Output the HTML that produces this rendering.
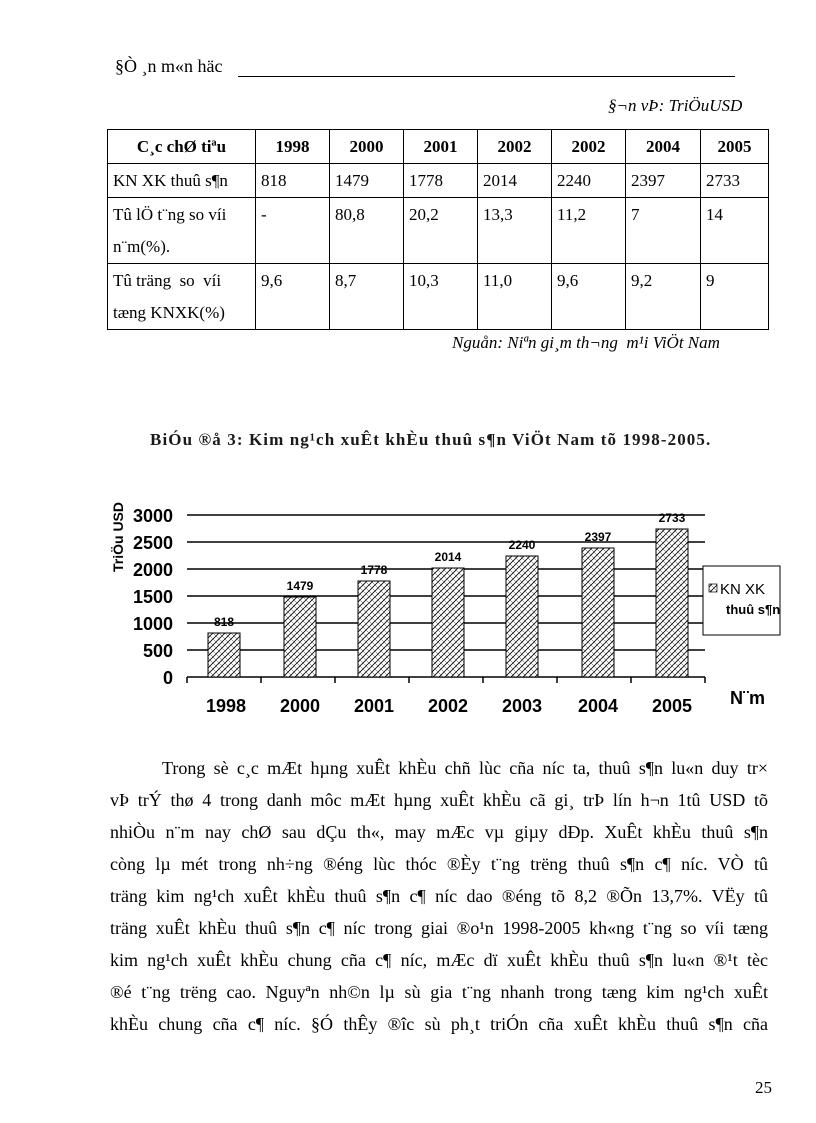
<!DOCTYPE html>
<html><head><meta charset="utf-8"><style>
body{margin:0;background:#fff;}
.p{position:relative;width:816px;height:1123px;font-family:"Liberation Serif",serif;color:#000;}
.a{position:absolute;white-space:nowrap;}
table{position:absolute;left:107px;top:129px;width:661px;table-layout:fixed;border-collapse:collapse;font-size:17px;}
td{border:1.5px solid #000;vertical-align:top;padding:1px 4px 0 5px;line-height:32px;overflow:hidden;white-space:nowrap;}
th{border:1.5px solid #000;font-size:17px;height:33px;font-weight:bold;padding:0;}
.t{font-size:18px;left:110px;width:658px;text-align:justify;text-align-last:justify;white-space:nowrap;}
</style></head><body><div class="p">
<div class="a" style="left:115px;top:56px;font-size:18px;">§Ò ¸n m«n häc</div>
<div class="a" style="left:238px;top:76px;width:497px;border-top:1px solid #000;"></div>
<div class="a" style="left:608px;top:96px;font-size:17px;font-style:italic;">§¬n vÞ: TriÖuUSD</div>
<table>
<colgroup><col style="width:148px"><col style="width:74px"><col style="width:74px"><col style="width:74px"><col style="width:74px"><col style="width:74px"><col style="width:75px"><col style="width:68px"></colgroup>
<tr><th>C¸c chØ tiªu</th><th>1998</th><th>2000</th><th>2001</th><th>2002</th><th>2002</th><th>2004</th><th>2005</th></tr>
<tr><td style="height:32px">KN XK thuû s¶n</td><td>818</td><td>1479</td><td>1778</td><td>2014</td><td>2240</td><td>2397</td><td>2733</td></tr>
<tr><td style="height:64px">Tû lÖ t¨ng so víi<br>n¨m(%).</td><td>-</td><td>80,8</td><td>20,2</td><td>13,3</td><td>11,2</td><td>7</td><td>14</td></tr>
<tr><td style="height:64px">Tû träng&nbsp; so&nbsp; víi<br>tæng KNXK(%)</td><td>9,6</td><td>8,7</td><td>10,3</td><td>11,0</td><td>9,6</td><td>9,2</td><td>9</td></tr>
</table>
<div class="a" style="left:452px;top:333px;font-size:17px;font-style:italic;">Nguån: Niªn gi¸m th¬ng&nbsp; m¹i ViÖt Nam</div>
<div class="a" style="left:150px;top:430px;font-size:17px;font-weight:bold;color:#1a1a1a;letter-spacing:1.1px;">BiÓu ®å 3: Kim ng¹ch xuÊt khÈu thuû s¶n ViÖt Nam tõ 1998-2005.</div>
<svg class="a" style="left:0;top:0" width="816" height="740" font-family="Liberation Sans,sans-serif">
<defs><pattern id="h" width="6" height="6" patternUnits="userSpaceOnUse">
<rect width="6" height="6" fill="#fff"/><path d="M0 6L6 0M-1 1L1 -1M5 7L7 5" stroke="#000" stroke-width="0.8"/><path d="M0 0L6 6" stroke="#000" stroke-width="0.4"/></pattern></defs>
<g stroke="#000" stroke-width="1.5">
<line x1="187" y1="515" x2="705" y2="515"/><line x1="187" y1="542" x2="705" y2="542"/><line x1="187" y1="569" x2="705" y2="569"/><line x1="187" y1="596" x2="705" y2="596"/><line x1="187" y1="623" x2="705" y2="623"/><line x1="187" y1="650" x2="705" y2="650"/><line x1="187" y1="677" x2="705" y2="677"/>
<line x1="187" y1="677" x2="187" y2="683"/><line x1="261" y1="677" x2="261" y2="683"/><line x1="335" y1="677" x2="335" y2="683"/><line x1="409" y1="677" x2="409" y2="683"/><line x1="483" y1="677" x2="483" y2="683"/><line x1="557" y1="677" x2="557" y2="683"/><line x1="631" y1="677" x2="631" y2="683"/><line x1="705" y1="677" x2="705" y2="683"/>
</g>
<g fill="url(#h)" stroke="#000" stroke-width="1">
<rect x="208" y="633" width="32" height="44"/><rect x="284" y="597" width="32" height="80"/><rect x="358" y="581" width="32" height="96"/><rect x="432" y="568" width="32" height="109"/><rect x="506" y="556" width="32" height="121"/><rect x="582" y="548" width="32" height="129"/><rect x="656" y="529" width="32" height="148"/>
</g>
<g font-size="12" font-weight="bold" text-anchor="middle">
<text x="224" y="626">818</text><text x="300" y="590">1479</text><text x="374" y="574">1778</text><text x="448" y="561">2014</text><text x="522" y="549">2240</text><text x="598" y="541">2397</text><text x="672" y="522">2733</text></g>
<g font-size="18" font-weight="bold" text-anchor="end">
<text x="173" y="522">3000</text><text x="173" y="549">2500</text><text x="173" y="576">2000</text><text x="173" y="603">1500</text><text x="173" y="630">1000</text><text x="173" y="657">500</text><text x="173" y="684">0</text></g>
<text transform="translate(123,572) rotate(-90)" font-size="14" font-weight="bold">TriÖu USD</text>
<g font-size="18" font-weight="bold" text-anchor="middle">
<text x="226" y="712">1998</text><text x="300" y="712">2000</text><text x="374" y="712">2001</text><text x="448" y="712">2002</text><text x="522" y="712">2003</text><text x="598" y="712">2004</text><text x="672" y="712">2005</text></g>
<text x="730" y="704" font-size="18" font-weight="bold">N¨m</text>
<rect x="703" y="566" width="77" height="69" fill="#fff" stroke="#000"/>
<rect x="709" y="584" width="8" height="8" fill="url(#h)" stroke="#000" stroke-width="0.7"/>
<text x="720" y="594" font-size="15">KN XK</text><text x="726" y="614" font-size="13" font-weight="bold">thuû s¶n</text>
</svg>
<div class="a t" style="left:162px;width:606px;top:758px;">Trong sè c¸c mÆt hµng xuÊt khÈu chñ lùc cña n­íc  ta, thuû s¶n lu«n duy tr×</div>
<div class="a t" style="top:790px;">vÞ trÝ thø 4 trong danh môc mÆt hµng xuÊt khÈu cã gi¸ trÞ lín h¬n 1tû USD tõ</div>
<div class="a t" style="top:822px;">nhiÒu n¨m nay chØ sau dÇu th«, may mÆc vµ giµy dÐp. XuÊt khÈu thuû s¶n</div>
<div class="a t" style="top:854px;">còng lµ mét trong nh÷ng ®éng lùc thóc ®Èy t¨ng tr­ëng  thuû s¶n c¶ n­íc.  VÒ tû</div>
<div class="a t" style="top:886px;">träng kim ng¹ch xuÊt khÈu thuû s¶n c¶ n­íc  dao ®éng tõ 8,2 ®Õn 13,7%. VËy tû</div>
<div class="a t" style="top:918px;">träng xuÊt khÈu thuû s¶n c¶ n­íc  trong giai ®o¹n 1998-2005 kh«ng t¨ng so víi tæng</div>
<div class="a t" style="top:950px;">kim ng¹ch xuÊt khÈu chung cña c¶ n­íc,  mÆc dï xuÊt khÈu thuû s¶n lu«n ®¹t tèc</div>
<div class="a t" style="top:982px;">®é t¨ng tr­ëng  cao. Nguyªn nh©n lµ sù gia t¨ng nhanh trong tæng kim ng¹ch xuÊt</div>
<div class="a t" style="top:1014px;">khÈu chung cña c¶ n­íc.  §Ó thÊy ®­îc  sù ph¸t triÓn cña xuÊt khÈu thuû s¶n cña</div>
<div class="a" style="left:755px;top:1078px;font-size:17px;">25</div>
</div></body></html>
